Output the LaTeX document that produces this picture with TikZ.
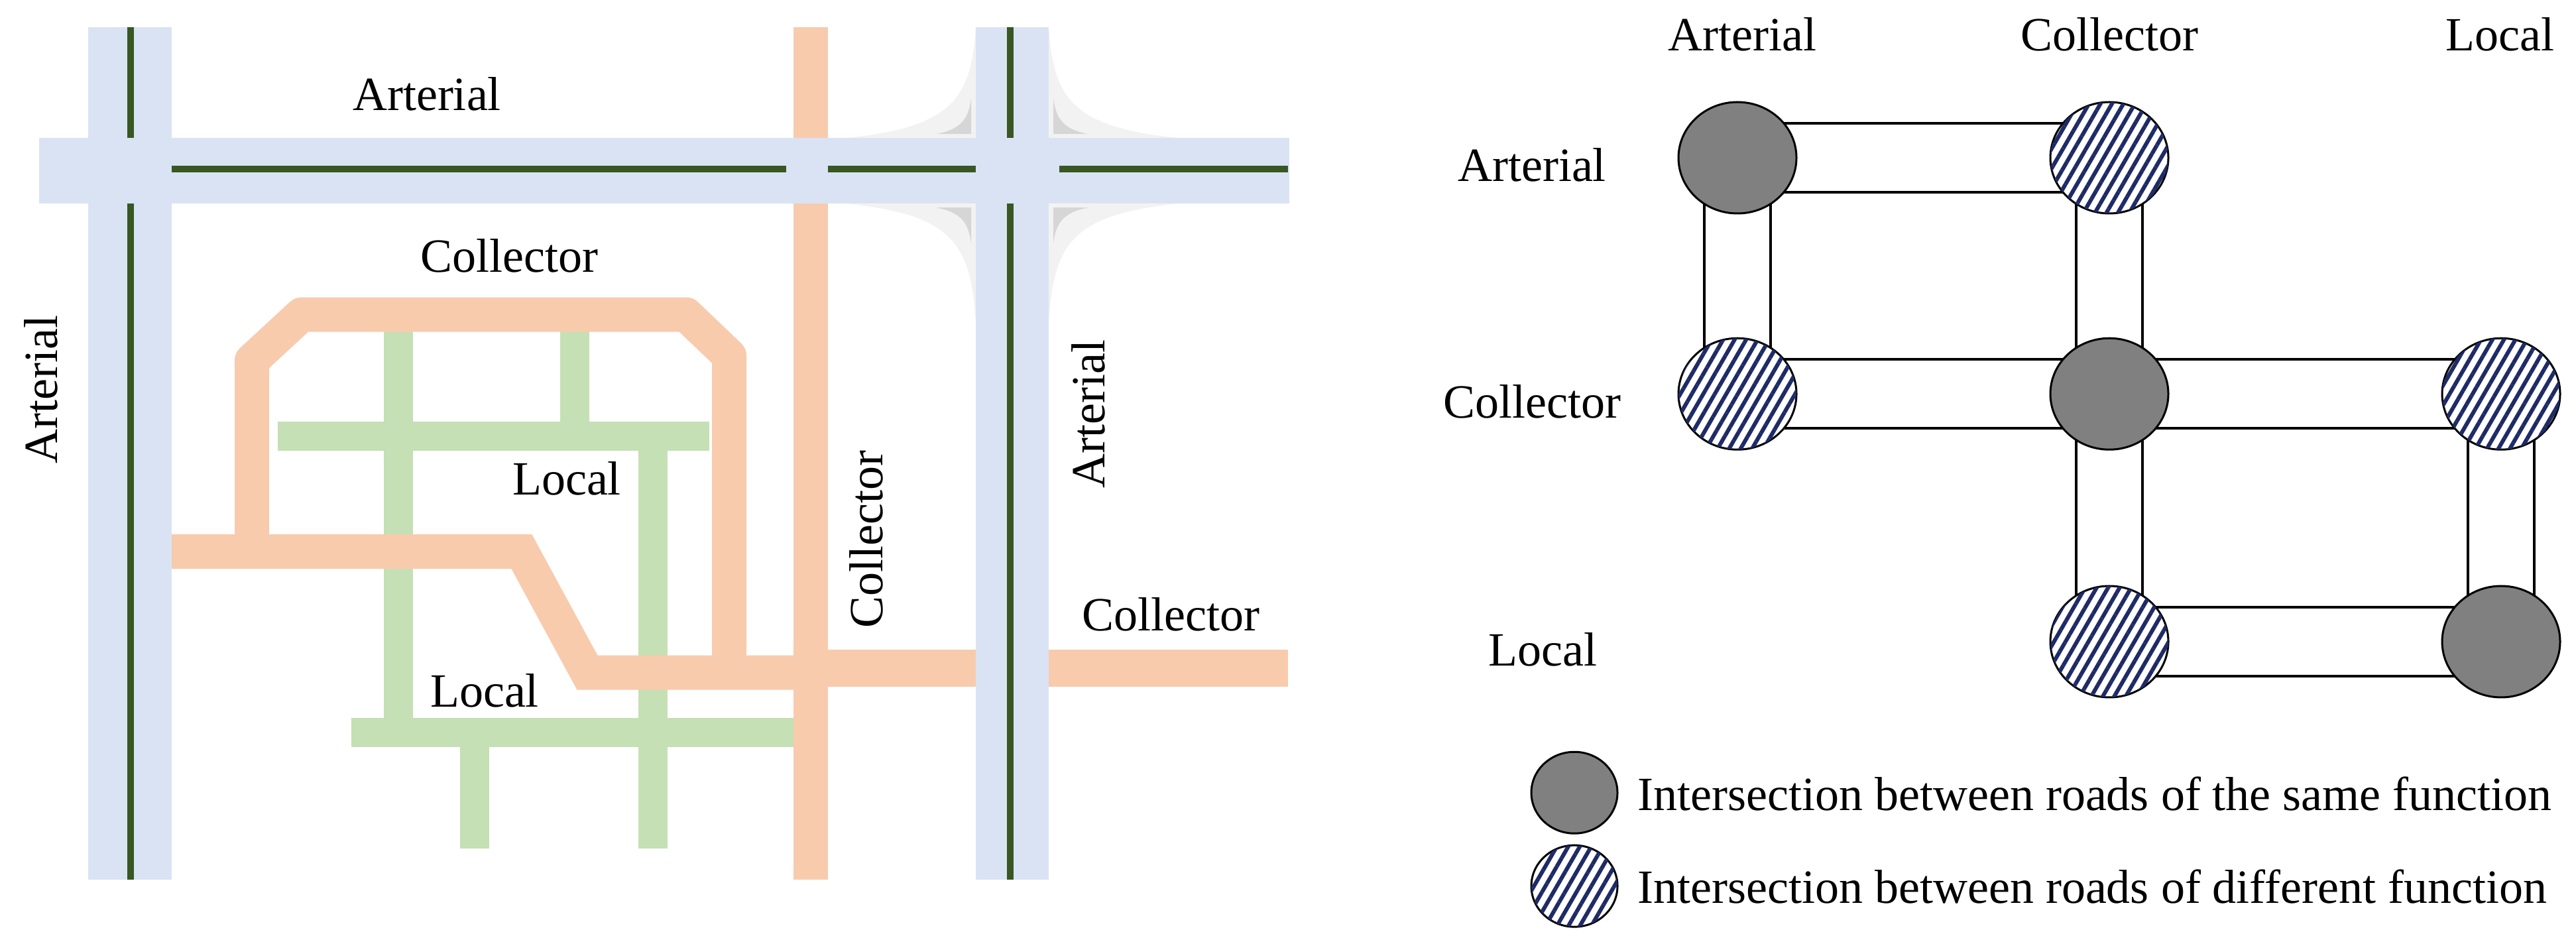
\documentclass[tikz,border=0pt]{standalone}
\usepackage{fontspec}
\setmainfont{Liberation Serif}
\usetikzlibrary{patterns.meta,backgrounds,shapes.geometric}
\definecolor{art}{HTML}{DAE3F3}
\definecolor{dk}{HTML}{385723}
\definecolor{col}{HTML}{F8CBAD}
\definecolor{loc}{HTML}{C5E0B4}
\definecolor{nv}{HTML}{1F2B66}
\begin{document}
\begin{tikzpicture}[x=1pt,y=-0.73pt,
  lbl/.style={font=\fontsize{72}{76}\selectfont,inner sep=0pt},
  same/.style={ellipse,draw=black,line width=3pt,fill=black!50,minimum width=178pt,minimum height=168pt,inner sep=0pt},
  diff/.style={ellipse,draw=black,line width=3pt,fill=white,minimum width=178pt,minimum height=168pt,inner sep=0pt,
     postaction={pattern={Lines[angle=60,distance=15pt,line width=6pt]},pattern color=nv}},
  link/.style={line width=3.5pt,draw=black}]
\useasboundingbox (0,0) rectangle (3886,1938);
% interchange ramps
\foreach \sx/\sy/\L in {-1/-1/229, 1/-1/229, -1/1/248, 1/1/248}{
  \begin{scope}[shift={(1527,353)},xscale=\sx,yscale=\sy]
    \fill[black!5] (55,68) -- (250,68) .. controls (90,90) and (62,150) .. (55,68+\L) -- cycle;
    \fill[black!16] (62,76) -- (115,76) .. controls (75,86) and (66,110) .. (62,150) -- cycle;
  \end{scope}}
% local roads
\begin{scope}[loc,line width=44pt]
\draw (601,682) -- (601,1512);
\draw (867,682) -- (867,880);
\draw (419,902) -- (1070,902);
\draw (985,927) -- (985,1753);
\draw (530,1514) -- (1199,1514);
\draw (716,1540) -- (716,1753);
\end{scope}
% collector roads
\begin{scope}[col,line width=52pt]
\draw[line join=round] (380,1120) -- (380,745) -- (455,650) -- (1035,650) -- (1100,735) -- (1100,1375);
\draw (200,1140) -- (787,1140) -- (886,1390) -- (1223,1390);
\draw (1223,56) -- (1223,1818);
\draw[line width=56pt] (1223,1381) -- (1943,1381);
\end{scope}
% arterials
\fill[art] (133,56) rectangle (259,1818);
\fill[art] (1472,56) rectangle (1582,1818);
\fill[art] (59,285) rectangle (1945,421);
\begin{scope}[dk,line width=10pt]
\draw (197,56) -- (197,285); \draw (197,421) -- (197,1818);
\draw (1524,56) -- (1524,285); \draw (1524,421) -- (1524,1818);
\draw (259,349) -- (1186,349); \draw (1249,349) -- (1472,349); \draw (1598,349) -- (1943,349);
\end{scope}
% left labels
\node[lbl] (t1) at (644,195) {Arterial};
\node[lbl] (t2) at (768,529) {Collector};
\node[lbl,rotate=90] (t3) at (62,805) {Arterial};
\node[lbl] (t4) at (855,989) {Local};
\node[lbl] (t5) at (731,1427) {Local};
\node[lbl,rotate=90] (t6) at (1307,1115) {Collector};
\node[lbl,rotate=90] (t7) at (1642,855) {Arterial};
\node[lbl] (t8) at (1766,1270) {Collector};
% right graph
\node[same] (aa) at (2621,326) {};
\node[diff] (ac) at (3182,326) {};
\node[diff] (ca) at (2621,814) {};
\node[same] (cc) at (3182,814) {};
\node[diff] (cl) at (3773,814) {};
\node[diff] (lc) at (3182,1326) {};
\node[same] (ll) at (3773,1326) {};
\begin{scope}[on background layer]
\foreach \a/\b in {aa/ac,ca/cc,cc/cl,lc/ll}{
  \draw[link] ([yshift=-52pt]\a.center) -- ([yshift=-52pt]\b.center);
  \draw[link] ([yshift=52pt]\a.center) -- ([yshift=52pt]\b.center);}
\foreach \a/\b in {aa/ca,ac/cc,cc/lc,cl/ll}{
  \draw[link] ([xshift=-50pt]\a.center) -- ([xshift=-50pt]\b.center);
  \draw[link] ([xshift=50pt]\a.center) -- ([xshift=50pt]\b.center);}
\end{scope}
\node[lbl] (h1) at (2628,71) {Arterial};
\node[lbl] (h2) at (3182,71) {Collector};
\node[lbl] (h3) at (3771,71) {Local};
\node[lbl] (r1) at (2311,341) {Arterial};
\node[lbl] (r2) at (2311,830) {Collector};
\node[lbl] (r3) at (2327,1342) {Local};
% legend
\node[same,minimum width=130pt,minimum height=123pt] (ls) at (2375,1638) {};
\node[diff,minimum width=130pt,minimum height=123pt] (ld) at (2375,1831) {};
\node[lbl,anchor=west] (lt1) at (2470,1640) {Intersection between roads of the same function};
\node[lbl,anchor=west] (lt2) at (2470,1832) {Intersection between roads of different function};
\end{tikzpicture}
\end{document}
